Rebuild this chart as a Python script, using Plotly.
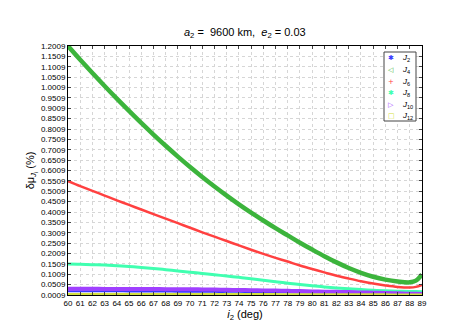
import plotly.graph_objects as go

# inclination (deg)
incl = [60, 61, 62, 63, 64, 65, 66, 67, 68, 69, 70, 71, 72, 73, 74, 75, 76, 77, 78, 79,
        80, 81, 82, 83, 84, 85, 86, 87, 88, 88.5, 89]

j2 = [0.019, 0.019, 0.019, 0.019, 0.019, 0.018, 0.018, 0.018, 0.018, 0.017, 0.017, 0.017,
      0.016, 0.016, 0.016, 0.015, 0.015, 0.014, 0.014, 0.013, 0.013, 0.012, 0.012, 0.011,
      0.011, 0.010, 0.010, 0.009, 0.009, 0.009, 0.009]
j4 = [1.2009, 1.135, 1.071, 1.008, 0.947, 0.888, 0.830, 0.774, 0.720, 0.668, 0.618, 0.570,
      0.524, 0.480, 0.438, 0.398, 0.360, 0.323, 0.288, 0.253, 0.220, 0.188, 0.158, 0.131,
      0.108, 0.089, 0.075, 0.066, 0.062, 0.070, 0.100]
j6 = [0.550, 0.526, 0.503, 0.480, 0.457, 0.435, 0.413, 0.391, 0.369, 0.347, 0.325, 0.303,
      0.282, 0.261, 0.240, 0.219, 0.199, 0.180, 0.162, 0.143, 0.126, 0.110, 0.094, 0.080,
      0.067, 0.056, 0.047, 0.040, 0.037, 0.040, 0.050]
j8 = [0.150, 0.149, 0.147, 0.145, 0.142, 0.138, 0.134, 0.129, 0.123, 0.117, 0.111, 0.105,
      0.099, 0.092, 0.086, 0.079, 0.072, 0.065, 0.058, 0.052, 0.046, 0.040, 0.035, 0.031,
      0.027, 0.024, 0.021, 0.019, 0.018, 0.018, 0.017]
j10 = [0.031, 0.031, 0.031, 0.030, 0.030, 0.030, 0.030, 0.030, 0.029, 0.029, 0.029, 0.028,
       0.027, 0.026, 0.025, 0.024, 0.023, 0.022, 0.021, 0.020, 0.018, 0.017, 0.016, 0.015,
       0.013, 0.012, 0.011, 0.009, 0.007, 0.007, 0.006]
j12 = [0.003, 0.003, 0.003, 0.003, 0.003, 0.003, 0.003, 0.003, 0.003, 0.003, 0.003, 0.003,
       0.003, 0.003, 0.003, 0.003, 0.003, 0.003, 0.002, 0.002, 0.002, 0.002, 0.002, 0.002,
       0.002, 0.002, 0.002, 0.001, 0.001, 0.001, 0.0009]

names = ["<i>J</i><sub>2</sub>", "<i>J</i><sub>4</sub>", "<i>J</i><sub>6</sub>",
         "<i>J</i><sub>8</sub>", "<i>J</i><sub>10</sub>", "<i>J</i><sub>12</sub>"]
series = [j2, j4, j6, j8, j10, j12]
colors = ["#3a3aff", "#3cb43c", "#ff4040", "#40ffb0", "#a040ff", "#d4e040"]
widths = [2, 4.5, 2.5, 3, 4, 3]
legend_glyphs = ["✱", "◁", "+", "✱", "▷", "□"]

ytickvals = [0.0009 + 0.05 * k for k in range(25)]
yticktext = ["%.4f" % v for v in ytickvals]
xtickvals = list(range(60, 90))

# plot-area geometry in pixels (for placing the compact legend box)
W, H = 458, 323
L, R, T, B = 60, 44, 38, 36
pw, ph = W - L - R, H - T - B


def px2paper(px, py):
    return (px - L) / pw, (H - B - py) / ph


fig = go.Figure()
for name, ys, c, w in zip(names, series, colors, widths):
    fig.add_trace(go.Scatter(x=incl, y=ys, mode="lines", name=name,
                             line=dict(color=c, width=w, shape="spline"),
                             showlegend=False, hoverinfo="skip"))

# compact legend box (MATLAB style)
x0, y0 = px2paper(376, 113)
x1, y1 = px2paper(408, 44)
shapes = [dict(type="rect", xref="paper", yref="paper", x0=x0, y0=y0, x1=x1, y1=y1,
               line=dict(color="#444", width=1), fillcolor="white", layer="above")]
annotations = []
for k, (name, c, g) in enumerate(zip(names, colors, legend_glyphs)):
    py = 50.5 + k * 11.5
    gx, gy = px2paper(383, py)
    tx, ty = px2paper(392, py)
    annotations.append(dict(xref="paper", yref="paper", x=gx, y=gy, text=g, showarrow=False,
                            xanchor="center", yanchor="middle",
                            font=dict(size=7, color=c, family="DejaVu Sans")))
    annotations.append(dict(xref="paper", yref="paper", x=tx, y=ty, text=name, showarrow=False,
                            xanchor="left", yanchor="middle",
                            font=dict(size=8, color="black")))

fig.update_layout(
    width=W, height=H,
    margin=dict(l=L, r=R, t=T, b=B),
    paper_bgcolor="white", plot_bgcolor="white",
    font=dict(family="Liberation Sans, Arial, sans-serif", size=8, color="black"),
    title=dict(text="<i>a</i><sub>2</sub> =  9600 km,  <i>e</i><sub>2</sub> = 0.03",
               x=0.517, xanchor="center", y=0.925, yanchor="middle",
               font=dict(size=11)),
    showlegend=False,
    shapes=shapes,
    annotations=annotations,
    xaxis=dict(range=[60, 89], tickvals=xtickvals, ticks="inside", ticklen=3,
               showline=True, linecolor="black", linewidth=1, mirror="ticks",
               showgrid=True, gridcolor="#d6d6d6", griddash="dot", gridwidth=1,
               zeroline=False, tickfont=dict(size=8),
               title=dict(text="<i>i</i><sub>2</sub> (deg)", font=dict(size=11), standoff=2)),
    yaxis=dict(range=[0.0009, 1.2009], tickvals=ytickvals, ticktext=yticktext,
               ticks="inside", ticklen=3,
               showline=True, linecolor="black", linewidth=1, mirror="ticks",
               showgrid=True, gridcolor="#d6d6d6", griddash="dot", gridwidth=1,
               zeroline=False, tickfont=dict(size=8),
               title=dict(text="δμ<sub><i>J</i><sub>i</sub></sub> (%)", font=dict(size=11), standoff=4)),
)

fig.write_html("out.html")
